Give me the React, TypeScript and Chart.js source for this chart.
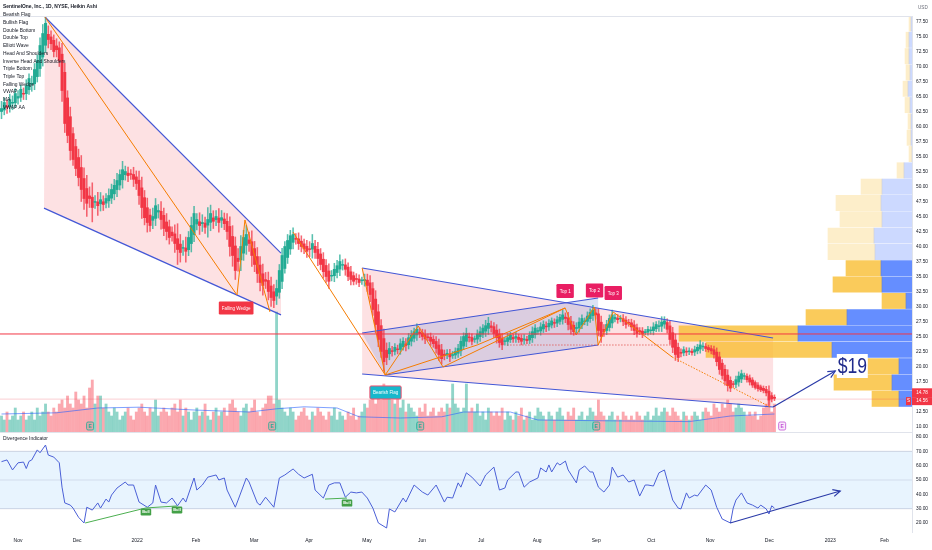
import React, { useEffect, useRef } from 'react';
import { Chart, registerables } from 'chart.js';

Chart.register(...registerables);

const FONT = "'Liberation Sans', Arial, sans-serif";

// ---------- DATA ----------
const chartTitle = 'SentinelOne, Inc., 1D, NYSE, Heikin Ashi';
const indicatorNames = [
  'Bearish Flag', 'Bullish Flag', 'Double Bottom', 'Double Top', 'Elliott Wave',
  'Head And Shoulders', 'Inverse Head And Shoulders', 'Triple Bottom', 'Triple Top',
  'Falling Wedge', 'VWAP', 'MA', 'VWAP AA',
];

const monthLabels = ['Nov', 'Dec', '2022', 'Feb', 'Mar', 'Apr', 'May', 'Jun', 'Jul', 'Aug', 'Sep', 'Oct', 'Nov', 'Dec', '2023', 'Feb'];
const monthTickIdx = [6, 27.5, 49.3, 70.7, 91.8, 111.8, 132.9, 152.9, 174.4, 194.7, 216.2, 236.2, 257.6, 279.1, 301.3, 321.0];

const priceTicks = [10, 12.5, 15, 17.5, 20, 22.5, 25, 27.5, 30, 32.5, 35, 37.5, 40, 42.5, 45, 47.5, 50, 52.5, 55, 57.5, 60, 62.5, 65, 67.5, 70, 72.5, 75, 77.5];
const rsiTicks = [20, 30, 40, 50, 60, 70, 80];

// Heikin Ashi closes, one per trading day
const haFirstOpen = 62.5;
const haClose = [
  63.0, 64.0, 63.2, 64.5, 64.0, 65.5, 65.0, 66.2, 65.4, 66.8,
  68.0, 67.2, 69.5, 71.0, 73.5, 75.5, 77.2, 74.5, 73.8, 72.5,
  72.8, 71.0, 66.0, 60.5, 58.5, 56.0, 54.5, 53.0, 51.5, 49.5,
  48.0, 47.2, 48.0, 46.5, 47.5, 46.8, 47.8, 47.0, 48.0, 48.5,
  49.5, 50.2, 51.0, 52.0, 52.8, 52.5, 51.8, 52.0, 51.2, 50.5,
  48.5, 46.5, 44.8, 44.0, 43.5, 45.0, 46.8, 46.0, 44.5, 43.0,
  42.5, 41.5, 41.8, 40.5, 39.5, 39.0, 39.8, 39.2, 41.5, 43.5,
  45.5, 44.5, 43.5, 44.0, 43.2, 44.5, 45.5, 44.2, 45.0, 44.0,
  44.8, 43.8, 42.5, 40.0, 38.5, 36.0, 37.5, 40.0, 41.5, 42.0,
  40.5, 38.5, 37.0, 35.5, 34.0, 33.5, 34.2, 32.5, 31.5, 31.0,
  33.0, 36.0, 38.5, 40.0, 41.0, 41.8, 42.0, 41.2, 40.5, 40.0,
  39.6, 39.2, 39.5, 40.5, 39.0, 38.0, 37.0, 35.8, 35.0, 34.2,
  35.2, 36.2, 36.8, 37.5, 37.0, 36.2, 35.0, 34.5, 34.2, 34.5,
  34.0, 34.3, 34.5, 33.5, 32.0, 29.5, 27.0, 24.5, 22.5, 20.8,
  21.5, 23.0, 22.5, 23.2, 22.8, 23.8, 24.2, 23.5, 24.8, 25.2,
  25.8, 26.2, 25.5, 25.0, 24.6, 24.8, 24.2, 23.8, 23.0, 22.0,
  21.3, 21.8, 22.2, 21.6, 22.0, 22.5, 23.0, 24.2, 25.0, 25.5,
  24.8, 24.2, 24.6, 25.4, 25.8, 26.4, 26.8, 27.2, 26.5, 25.5,
  24.8, 24.0, 23.6, 24.2, 24.8, 25.2, 24.6, 25.0, 24.5, 24.2,
  24.6, 24.3, 25.2, 25.8, 26.4, 26.0, 26.6, 27.0, 26.6, 27.2,
  27.6, 27.2, 27.8, 28.2, 28.6, 28.0, 27.0, 26.2, 25.8, 26.5,
  27.4, 28.0, 27.6, 28.4, 29.0, 29.4, 28.6, 26.0, 25.0, 25.8,
  27.0, 28.0, 28.6, 28.2, 27.8, 28.0, 27.5, 27.0, 27.2, 26.6,
  26.0, 25.5, 25.8, 25.4, 25.8, 26.2, 26.0, 26.6, 27.0, 26.8,
  27.4, 27.6, 26.2, 24.5, 23.2, 22.0, 21.5, 22.2, 22.8, 22.4,
  22.6, 22.3, 22.8, 23.2, 23.6, 23.4, 23.0, 22.8, 22.6, 22.0,
  20.8, 19.5, 18.5, 17.6, 16.8, 16.4, 17.0, 17.8, 18.4, 18.8,
  18.4, 17.8, 17.4, 16.9, 16.5, 16.3, 16.1, 16.0, 15.6, 14.4,
  14.6, 14.7,
];

// wick extension beyond the body, per day
const wick = [
  1.2, 0.8, 1.0, 0.9, 1.1, 0.8, 1.0, 0.7, 0.9, 1.0, 0.8, 1.2, 1.0, 0.9, 1.3, 1.5, 1.2, 1.4, 1.0, 0.9,
  1.2, 1.0, 1.8, 1.5, 1.2, 1.6, 1.0, 1.2, 1.4, 2.0, 1.8, 2.2, 1.5, 2.4, 1.0, 1.6, 1.2, 1.0, 0.8, 1.1,
  0.9, 1.0, 1.2, 0.8, 1.4, 0.9, 1.0, 0.8, 1.2, 1.0, 1.5, 1.8, 1.2, 1.6, 1.0, 1.4, 1.2, 1.0, 1.6, 1.2,
  1.4, 1.1, 0.9, 1.5, 2.5, 1.6, 1.2, 1.8, 1.0, 1.4, 1.2, 1.0, 1.5, 1.3, 1.0, 2.0, 1.4, 1.2, 1.0, 1.6,
  1.2, 1.0, 1.3, 1.6, 1.8, 1.5, 1.6, 1.8, 1.2, 1.5, 1.3, 1.8, 1.2, 1.5, 1.4, 1.6, 1.2, 1.4, 1.5, 1.2,
  1.4, 1.0, 1.2, 0.8, 1.0, 0.9, 1.1, 0.8, 1.0, 0.9, 0.8, 1.0, 1.2, 1.5, 1.0, 1.2, 0.9, 1.1, 1.0, 1.2,
  0.8, 1.0, 0.9, 1.1, 0.8, 1.0, 0.7, 0.9, 0.6, 0.8, 0.7, 0.6, 0.9, 1.0, 1.2, 1.0, 1.4, 1.2, 1.0, 1.6,
  1.2, 1.0, 0.8, 0.6, 0.7, 0.8, 0.6, 0.9, 0.7, 0.8, 0.6, 0.9, 0.7, 0.6, 0.8, 0.5, 0.7, 0.6, 0.8, 1.0,
  0.9, 0.7, 0.6, 0.8, 0.5, 0.6, 0.7, 0.8, 0.6, 0.9, 0.7, 0.6, 0.5, 0.7, 0.8, 0.6, 0.9, 1.0, 0.8, 0.7,
  0.9, 0.8, 0.8, 0.6, 0.7, 0.5, 0.6, 0.7, 0.5, 0.6, 0.7, 0.5, 0.6, 0.8, 0.6, 0.5, 0.7, 0.6, 0.8, 0.6,
  0.5, 0.7, 0.6, 0.5, 0.8, 0.7, 0.9, 0.8, 0.6, 0.8, 0.7, 0.6, 0.5, 0.7, 0.6, 0.8, 0.7, 0.9, 1.0, 0.8,
  0.7, 0.6, 0.8, 0.5, 0.6, 0.5, 0.7, 0.6, 0.5, 0.6, 0.7, 0.6, 0.5, 0.6, 0.4, 0.5, 0.6, 0.7, 0.5, 0.8,
  0.9, 0.7, 0.6, 0.8, 0.9, 1.0, 0.7, 0.6, 0.5, 0.6, 0.5, 0.4, 0.6, 0.5, 0.7, 0.6, 0.5, 0.4, 0.5, 0.6,
  0.7, 0.8, 0.6, 0.7, 0.9, 0.6, 0.5, 0.6, 0.7, 0.6, 0.5, 0.4, 0.5, 0.4, 0.3, 0.4, 0.3, 0.4, 0.5, 0.9,
  0.5, 0.4,
];

// daily volume (millions)
const volume = [
  4, 3, 5, 3, 4, 6, 3, 4, 5, 3, 4, 5, 3, 6, 4, 5, 7, 5, 4, 6,
  5, 7, 8, 6, 9, 7, 6, 10, 8, 7, 9, 6, 11, 13, 7, 9, 9, 6, 7, 5,
  4, 6, 5, 3, 4, 5, 6, 4, 3, 5, 6, 7, 5, 4, 6, 5, 8, 4, 5, 6,
  5, 4, 6, 7, 5, 8, 4, 6, 5, 3, 5, 6, 4, 5, 7, 4, 3, 5, 6, 4,
  5, 6, 4, 7, 8, 6, 5, 4, 6, 7, 5, 6, 8, 5, 4, 6, 7, 9, 9, 7,
  30, 8, 6, 5, 4, 6, 5, 3, 4, 5, 6, 4, 3, 5, 4, 6, 5, 4, 3, 5,
  4, 6, 3, 5, 4, 3, 5, 4, 6, 3, 4, 5, 7, 6, 8, 9, 7, 10, 8, 12,
  9, 11, 8, 7, 9, 6, 8, 5, 7, 6, 5, 4, 6, 5, 7, 4, 5, 6, 4, 5,
  6, 5, 7, 6, 12, 7, 6, 5, 6, 12, 5, 6, 5, 7, 4, 5, 3, 6, 5, 4,
  5, 4, 6, 3, 5, 4, 3, 5, 4, 6, 3, 4, 5, 3, 4, 6, 5, 4, 3, 5,
  4, 3, 5, 6, 4, 3, 5, 4, 6, 3, 4, 5, 3, 4, 6, 5, 4, 8, 5, 4,
  3, 4, 5, 3, 4, 3, 5, 4, 3, 4, 3, 5, 4, 3, 4, 5, 3, 4, 6, 4,
  5, 6, 5, 4, 6, 5, 4, 3, 5, 4, 3, 4, 5, 4, 3, 5, 6, 5, 4, 7,
  6, 5, 7, 6, 8, 7, 5, 6, 7, 6, 5, 4, 5, 4, 5, 3, 4, 6, 7, 8,
  5, 7,
];

// volume moving average [day index, value]
const volMA = [
  [0, 4.5], [20, 4.8], [35, 6.0], [50, 6.2], [70, 5.5], [90, 5.0], [100, 5.8], [110, 6.3], [122, 6.0],
  [130, 3.8], [145, 3.5], [160, 3.8], [168, 5.0], [185, 5.0], [195, 3.0], [220, 2.8], [250, 2.6],
  [265, 4.0], [281, 4.5],
];

// earnings days
const earningsIdx = [32.2, 98.4, 152.2, 216.2, 283.8];

// visible range volume profile (rows of price)
const vpRowMid = [14.61, 17.33, 20.05, 22.77, 25.49, 28.21, 30.93, 33.65, 36.37, 39.09, 41.81, 44.53, 47.25, 49.97, 52.69, 55.41, 58.13, 60.85, 63.57, 66.29, 69.01, 71.73, 74.45, 77.17];
const vpUp = [13, 20, 13, 80, 114, 65, 6, 30, 31, 37, 38, 30, 31, 30, 8, 0, 1, 1, 2, 4, 2, 3, 3, 1];
const vpDown = [27, 58, 45, 126, 119, 41, 24, 49, 35, 47, 46, 42, 45, 21, 7, 3, 4, 3, 5, 5, 4, 4, 3, 2];
const vpValueAreaRows = 9;

// drawings [day index, price]
const wedgePoly = [[15.8, 78.25], [101.6, 38.9], [101.6, 28.6], [15.45, 46.4]];
const wedgeUpper = [[15.8, 78.25], [101.6, 38.9]];
const wedgeLower = [[15.45, 46.4], [101.6, 28.6]];
const flagPoly = [[131.1, 36.42], [280.5, 24.75], [280.5, 13.25], [131.1, 18.75]];
const flagUpper = [[131.1, 36.42], [280.5, 24.75]];
const flagLower = [[131.1, 18.75], [280.5, 13.25]];
const channelPoly = [[131.1, 25.58], [216.9, 31.42], [216.9, 23.58], [139.5, 18.58]];
const channelUpper = [[131.1, 25.58], [216.9, 31.42]];
const channelLower = [[139.5, 18.58], [216.9, 23.58]];
const wedgeZigzag = [[15.8, 78.25], [85.6, 31.92], [88.5, 44.42], [97.6, 29.08]];
const dropLeg = [[106, 42.4], [139.5, 18.58]];
const flagPole = [[131.1, 36.42], [139.5, 18.58]];
const flagZigzag = [[139.5, 18.58], [151.5, 26.75], [160.5, 19.92], [204.9, 29.75], [208.9, 25.25], [215.5, 29.92], [216.9, 23.58], [222.4, 29.08], [243.8, 21.58]];
const flagSwing = [[139.5, 18.58], [172.9, 23.58], [204.9, 29.75]];
const projection = [[243.8, 21.58], [279.5, 13.25]];
const neckline = [[183.8, 23.58], [244.2, 23.58]];
const resistanceLevel = 25.42;
const lastPrice = 14.56;
const lastClose = 14.78;
const targetArrow = [[280.5, 13.25], [303.1, 19.25]];
const targetText = '$19';
const targetAnchor = [309.3, 20.08];

const patternTags = [
  { text: 'Falling Wedge', i: 85.3, p: 29.75, kind: 'wedge' },
  { text: 'Bearish Flag', i: 139.6, p: 15.67, kind: 'flag' },
  { text: 'Top 1', i: 204.9, p: 32.58, kind: 'top' },
  { text: 'Top 2', i: 215.6, p: 32.67, kind: 'top' },
  { text: 'Top 3', i: 222.4, p: 32.25, kind: 'top' },
];

// RSI / divergence indicator [day index, value]
const rsi = [
  [0, 62.8], [2, 64], [4, 57], [6, 62], [8, 62.5], [9, 58], [10, 63], [11, 64], [13, 71], [14, 69],
  [16, 74.4], [17, 67.4], [19, 66], [21, 62], [22, 45], [23, 34], [25, 32.5], [26, 30.4], [28, 24], [30, 20],
  [31, 31], [33, 29], [35, 34], [36, 30.4], [38, 36.7], [39, 34.6], [40, 39.5], [42, 44.4], [45, 48.6], [46, 46.5],
  [48, 46.5], [50, 34.6], [53, 31], [55, 34], [56, 46.5], [58, 34.6], [60, 34], [62, 37.4], [64, 32], [66, 37.4],
  [67, 34.6], [70, 51.4], [71, 43], [73, 46.5], [75, 52], [78, 53.5], [79, 50], [81, 51.4], [82, 43], [85, 31],
  [86, 36], [89, 51.4], [90, 48.6], [93, 34], [94, 32.5], [96, 38], [99, 31], [101, 51.4], [103, 53.5], [106, 57.7],
  [108, 54], [110, 51.4], [113, 54], [114, 43], [117, 37.4], [119, 46.5], [121, 48], [123, 48], [125, 38], [127, 41.6],
  [129, 41], [131, 41.6], [133, 37.4], [135, 30.4], [137, 20], [140, 16.5], [141, 29.8], [143, 27.7], [146, 37.4], [147, 34.6],
  [150, 46.5], [153, 41.6], [155, 39.5], [158, 46.5], [161, 34.6], [162, 38], [164, 37.4], [166, 48], [167, 45], [169, 55],
  [171, 52], [174, 45.8], [176, 53.5], [179, 59], [181, 43], [183, 44.4], [184, 50], [187, 55.6], [188, 55.6], [190, 45],
  [192, 48.6], [195, 51.4], [196, 58.4], [198, 55.6], [199, 60.5], [200, 55.6], [202, 62], [203, 60.5], [205, 63.2], [206, 57],
  [209, 48], [210, 57], [212, 59.8], [214, 55.6], [215, 55.6], [217, 45], [219, 41.6], [221, 46.5], [222, 59], [224, 52],
  [226, 53.5], [228, 48.6], [230, 50], [232, 38.8], [234, 46.5], [235, 46.5], [237, 45.8], [239, 55], [241, 57], [244, 36],
  [246, 30.4], [247, 29.8], [249, 41], [250, 37.4], [252, 39.5], [253, 38.8], [256, 46.5], [258, 43], [260, 31], [262, 22.8],
  [265, 20], [266, 30.4], [267, 36], [269, 41], [271, 34], [273, 32.5], [275, 30.4], [276, 32.5], [278, 29.8], [279, 26.3],
  [280, 32], [281, 30.4],
];
const bullDivergenceA = [[30.4, 20], [52.5, 30.5], [63.8, 31.9]];
const bullDivergenceB = [[117.6, 36.7], [125.6, 37.4]];
const bullTags = [[52.5, 27.7], [63.8, 29.1], [125.6, 33.9]];
const rsiArrow = [[264.9, 20], [304.9, 42.3]];
const rsiBand = [70, 30];
const rsiMid = 50;

const xMin = -0.55;
const xMax = 331;

// ---------- STYLE ----------
const UP = '#22ab94';
const DOWN = '#f23645';
const UP_VOL = 'rgba(34,171,148,0.5)';
const DOWN_VOL = 'rgba(247,82,95,0.5)';
const PATTERN_BLUE = '#4357d6';
const ORANGE = '#f57c00';
const PINK_FILL = 'rgba(242,54,69,0.15)';
const NAVY = '#2a3aa8';

const pts = (arr: number[][]) => arr.map(([x, y]) => ({ x, y }));

const segment = (points: number[][], color: string, width = 1, dash: number[] = [], order = 1, extra: any = {}) => ({
  type: 'line',
  data: pts(points),
  borderColor: color,
  borderWidth: width,
  borderDash: dash,
  fill: false,
  pointRadius: 0,
  order,
  xAxisID: 'x',
  yAxisID: 'y',
  ...extra,
});

const polygon = (points: number[][], color: string, order: number) => ({
  type: 'line',
  data: pts(points),
  borderColor: 'transparent',
  borderWidth: 0,
  backgroundColor: color,
  fill: 'shape',
  pointRadius: 0,
  order,
  xAxisID: 'x',
  yAxisID: 'y',
});

function arrowHead(ctx: any, x1: number, y1: number, x2: number, y2: number, color: string, len = 8) {
  const a = Math.atan2(y2 - y1, x2 - x1);
  ctx.strokeStyle = color;
  ctx.lineWidth = 1.2;
  ctx.beginPath();
  ctx.moveTo(x2 - len * Math.cos(a - 0.45), y2 - len * Math.sin(a - 0.45));
  ctx.lineTo(x2, y2);
  ctx.lineTo(x2 - len * Math.cos(a + 0.45), y2 - len * Math.sin(a + 0.45));
  ctx.stroke();
}

function tag(ctx: any, cx: number, cy: number, text: string, bg: string, opts: any = {}) {
  const size = opts.size ?? 4.5;
  const padX = opts.padX ?? 3;
  const h = opts.h ?? 12;
  ctx.font = `${opts.weight ?? 'normal'} ${size}px ${FONT}`;
  const w = ctx.measureText(text).width + padX * 2;
  ctx.fillStyle = bg;
  ctx.beginPath();
  ctx.roundRect(cx - w / 2, cy - h / 2, w, h, 1.2);
  ctx.fill();
  if (opts.border) {
    ctx.strokeStyle = opts.border;
    ctx.lineWidth = 1;
    ctx.stroke();
  }
  ctx.fillStyle = opts.fg ?? '#ffffff';
  ctx.textAlign = 'center';
  ctx.textBaseline = 'middle';
  ctx.fillText(text, cx, cy + 0.3);
}

const pricePlugin = {
  id: 'priceOverlay',
  afterDatasetsDraw(chart: any) {
    const { ctx, chartArea, scales } = chart;
    const x = scales.x;
    const y = scales.y;
    ctx.save();

    // earnings markers
    earningsIdx.forEach((idx, k) => {
      const px = x.getPixelForValue(idx);
      const py = chartArea.bottom - 6;
      const upcoming = k === earningsIdx.length - 1;
      const col = upcoming ? '#c24fd6' : '#22ab94';
      ctx.fillStyle = upcoming ? 'rgba(194,79,214,0.12)' : 'rgba(34,171,148,0.15)';
      ctx.strokeStyle = col;
      ctx.lineWidth = 0.8;
      ctx.beginPath();
      ctx.roundRect(px - 3.5, py - 4, 7, 8, 1.5);
      ctx.fill();
      ctx.stroke();
      ctx.fillStyle = col;
      ctx.font = `bold 5px ${FONT}`;
      ctx.textAlign = 'center';
      ctx.textBaseline = 'middle';
      ctx.fillText('E', px, py + 0.4);
    });

    // pattern tags
    patternTags.forEach((t) => {
      const px = x.getPixelForValue(t.i);
      const py = y.getPixelForValue(t.p);
      if (t.kind === 'wedge') tag(ctx, px, py, t.text, '#f23645', { padX: 3, h: 13 });
      else if (t.kind === 'flag') tag(ctx, px, py, t.text, '#17b8cc', { padX: 3, h: 13, border: '#f0506e' });
      else tag(ctx, px, py, t.text, '#e91e63', { padX: 3.2, h: 14 });
    });

    // target arrow and text
    const ax1 = x.getPixelForValue(targetArrow[0][0]);
    const ay1 = y.getPixelForValue(targetArrow[0][1]);
    const ax2 = x.getPixelForValue(targetArrow[1][0]);
    const ay2 = y.getPixelForValue(targetArrow[1][1]);
    arrowHead(ctx, ax1, ay1, ax2, ay2, NAVY, 8);
    const tx = x.getPixelForValue(targetAnchor[0]);
    const ty = y.getPixelForValue(targetAnchor[1]);
    ctx.save();
    ctx.translate(tx, ty);
    ctx.scale(0.8, 1);
    ctx.font = `22px ${FONT}`;
    const tw = ctx.measureText(targetText).width;
    ctx.fillStyle = '#ffffff';
    ctx.fillRect(-tw / 2 - 1, -12, tw + 2, 24);
    ctx.fillStyle = '#1f2a8c';
    ctx.textAlign = 'center';
    ctx.textBaseline = 'middle';
    ctx.fillText(targetText, 0, 1);
    ctx.restore();

    // price tags on the axis
    const tagY1 = y.getPixelForValue(lastClose) - 5;
    const tagY2 = y.getPixelForValue(lastPrice) + 2;
    ctx.fillStyle = '#f23645';
    ctx.fillRect(chartArea.right, tagY1 - 4.5, 20, 9);
    ctx.fillRect(chartArea.right, tagY2 - 4, 20, 8);
    ctx.fillRect(chartArea.right - 6, tagY2 - 4, 5, 8);
    ctx.fillStyle = '#ffffff';
    ctx.font = `4.6px ${FONT}`;
    ctx.textAlign = 'center';
    ctx.textBaseline = 'middle';
    ctx.fillText(lastClose.toFixed(2), chartArea.right + 10, tagY1);
    ctx.fillText(lastPrice.toFixed(2), chartArea.right + 10, tagY2);
    ctx.fillText('S', chartArea.right - 3.5, tagY2);
    ctx.restore();
  },
  afterDraw(chart: any) {
    const { ctx, chartArea } = chart;
    ctx.save();
    ctx.strokeStyle = '#e0e3eb';
    ctx.lineWidth = 1;
    ctx.beginPath();
    ctx.moveTo(0, chartArea.top + 0.5);
    ctx.lineTo(chartArea.right, chartArea.top + 0.5);
    ctx.stroke();
    ctx.fillStyle = '#131722';
    ctx.textAlign = 'left';
    ctx.textBaseline = 'middle';
    ctx.font = `600 4.9px ${FONT}`;
    ctx.fillText(chartTitle, 3, 6.5);
    ctx.font = `4.9px ${FONT}`;
    indicatorNames.forEach((n, k) => ctx.fillText(n, 3, 15 + k * 7.7));
    ctx.font = `4.6px ${FONT}`;
    ctx.fillStyle = '#6a6d78';
    ctx.fillText('USD', chartArea.right + 6, 8);
    ctx.restore();
  },
};

const rsiPlugin = {
  id: 'rsiOverlay',
  afterDatasetsDraw(chart: any) {
    const { ctx, scales } = chart;
    const x = scales.x;
    const y = scales.y;
    ctx.save();
    bullTags.forEach(([i, v]) => {
      tag(ctx, x.getPixelForValue(i), y.getPixelForValue(v), 'Bull', '#43a047', { size: 4, padX: 1.5, h: 7, weight: 'bold' });
    });
    arrowHead(
      ctx,
      x.getPixelForValue(rsiArrow[0][0]), y.getPixelForValue(rsiArrow[0][1]),
      x.getPixelForValue(rsiArrow[1][0]), y.getPixelForValue(rsiArrow[1][1]),
      NAVY, 8,
    );
    ctx.restore();
  },
};

function buildPriceConfig(): any {
  const haOpen: number[] = [];
  haClose.forEach((c, i) => {
    haOpen.push(i === 0 ? haFirstOpen : (haOpen[i - 1] + haClose[i - 1]) / 2);
  });
  const isUp = haClose.map((c, i) => c >= haOpen[i]);

  const bodies = haClose.map((c, i) => ({ x: i, y: [haOpen[i], c] }));
  const wicks = haClose.map((c, i) => ({
    x: i,
    y: [Math.min(c, haOpen[i]) - wick[i], Math.max(c, haOpen[i]) + wick[i]],
  }));
  const vols = volume.map((v, i) => ({ x: i, y: v }));

  const datasets: any[] = [
    polygon(wedgePoly, PINK_FILL, 30),
    polygon(flagPoly, PINK_FILL, 30),
    polygon(channelPoly, 'rgba(140,160,220,0.3)', 29),
    {
      type: 'bar',
      indexAxis: 'y',
      xAxisID: 'xVP',
      yAxisID: 'y',
      data: vpRowMid.map((m, k) => ({ y: m, x: [0, vpUp[k]] })),
      backgroundColor: vpRowMid.map((_, k) => (k < vpValueAreaRows ? 'rgba(41,98,255,0.72)' : 'rgba(41,98,255,0.24)')),
      barThickness: 15.3,
      grouped: false,
      borderWidth: 0,
      order: 20,
    },
    {
      type: 'bar',
      indexAxis: 'y',
      xAxisID: 'xVP',
      yAxisID: 'y',
      data: vpRowMid.map((m, k) => ({ y: m, x: [vpUp[k], vpUp[k] + vpDown[k]] })),
      backgroundColor: vpRowMid.map((_, k) => (k < vpValueAreaRows ? 'rgba(249,190,50,0.8)' : 'rgba(249,190,50,0.26)')),
      barThickness: 15.3,
      grouped: false,
      borderWidth: 0,
      order: 20,
    },
    {
      type: 'bar',
      xAxisID: 'x',
      yAxisID: 'yVol',
      data: vols,
      backgroundColor: isUp.map((u) => (u ? UP_VOL : DOWN_VOL)),
      barThickness: 2.2,
      grouped: false,
      borderWidth: 0,
      order: 18,
    },
    {
      type: 'line',
      xAxisID: 'x',
      yAxisID: 'yVol',
      data: pts(volMA),
      borderColor: 'rgba(41,98,255,0.75)',
      borderWidth: 0.8,
      pointRadius: 0,
      fill: false,
      order: 17,
    },
    {
      type: 'bar',
      xAxisID: 'x',
      yAxisID: 'y',
      data: wicks,
      backgroundColor: isUp.map((u) => (u ? 'rgba(34,171,148,0.75)' : 'rgba(242,54,69,0.75)')),
      barThickness: 0.9,
      grouped: false,
      borderWidth: 0,
      order: 6,
    },
    {
      type: 'bar',
      xAxisID: 'x',
      yAxisID: 'y',
      data: bodies,
      backgroundColor: isUp.map((u) => (u ? UP : DOWN)),
      barThickness: 2.3,
      minBarLength: 0.8,
      grouped: false,
      borderWidth: 0,
      order: 5,
    },
    segment(wedgeUpper, PATTERN_BLUE, 1.2, [], 2),
    segment(wedgeLower, PATTERN_BLUE, 1.2, [], 2),
    segment(flagUpper, PATTERN_BLUE, 1.2, [], 2),
    segment(flagLower, PATTERN_BLUE, 1.2, [], 2),
    segment(channelUpper, PATTERN_BLUE, 1.2, [], 2),
    segment(channelLower, PATTERN_BLUE, 1.2, [], 2),
    segment(wedgeZigzag, ORANGE, 1, [], 1),
    segment(dropLeg, ORANGE, 1, [], 1),
    segment(flagPole, ORANGE, 1, [], 1),
    segment(flagZigzag, ORANGE, 1, [], 1),
    segment(flagSwing, ORANGE, 1, [], 1),
    segment(projection, ORANGE, 1, [1.5, 1.5], 1),
    segment(neckline, '#e0504f', 0.8, [1.5, 1.5], 1),
    segment([[xMin, resistanceLevel], [xMax, resistanceLevel]], '#f23645', 1, [], 0),
    segment([[xMin, lastPrice], [xMax, lastPrice]], 'rgba(242,54,69,0.3)', 0.8, [], 0),
    segment(targetArrow, NAVY, 1.2, [], 0),
  ];

  return {
    type: 'line',
    data: { datasets },
    options: {
      animation: false,
      responsive: false,
      events: [],
      layout: { padding: { top: 16, left: 0, right: 0, bottom: 0 } },
      plugins: { legend: { display: false }, tooltip: { enabled: false }, title: { display: false } },
      elements: { point: { radius: 0 }, line: { tension: 0 } },
      scales: {
        x: { type: 'linear', min: xMin, max: xMax, display: false, offset: false },
        y: {
          type: 'linear',
          position: 'right',
          min: 9.08,
          max: 78.42,
          offset: false,
          afterBuildTicks: (s: any) => { s.ticks = priceTicks.map((v) => ({ value: v })); },
          afterFit: (s: any) => { s.width = 20; s.paddingTop = 0; s.paddingBottom = 0; },
          ticks: {
            font: { size: 4.8, family: FONT },
            color: '#131722',
            padding: 4,
            autoSkip: false,
            callback: (v: any) => Number(v).toFixed(2),
          },
          grid: { display: false, drawTicks: false },
          border: { color: '#e0e3eb' },
        },
        yVol: { type: 'linear', display: false, min: 0, max: 104, offset: false },
        xVP: { type: 'linear', axis: 'x', display: false, min: 0, max: 912, reverse: true, offset: false },
      },
    },
    plugins: [pricePlugin],
  };
}

function buildRsiConfig(): any {
  const datasets: any[] = [
    {
      type: 'line',
      data: pts([[xMin, rsiBand[0]], [xMax, rsiBand[0]]]),
      borderColor: 'rgba(120,123,160,0.3)',
      borderWidth: 1,
      backgroundColor: 'rgba(33,150,243,0.1)',
      fill: '+1',
      pointRadius: 0,
      order: 10,
    },
    {
      type: 'line',
      data: pts([[xMin, rsiBand[1]], [xMax, rsiBand[1]]]),
      borderColor: 'rgba(120,123,160,0.3)',
      borderWidth: 1,
      fill: false,
      pointRadius: 0,
      order: 10,
    },
    {
      type: 'line',
      data: pts([[xMin, rsiMid], [xMax, rsiMid]]),
      borderColor: 'rgba(120,123,160,0.2)',
      borderWidth: 1,
      fill: false,
      pointRadius: 0,
      order: 9,
    },
    {
      type: 'line',
      data: pts(rsi),
      borderColor: '#4a5fd6',
      borderWidth: 1,
      fill: false,
      pointRadius: 0,
      order: 2,
    },
    {
      type: 'line',
      data: pts(bullDivergenceA),
      borderColor: '#4caf50',
      borderWidth: 1,
      fill: false,
      pointRadius: 0,
      order: 1,
    },
    {
      type: 'line',
      data: pts(bullDivergenceB),
      borderColor: '#4caf50',
      borderWidth: 1,
      fill: false,
      pointRadius: 0,
      order: 1,
    },
    {
      type: 'line',
      data: pts(rsiArrow),
      borderColor: NAVY,
      borderWidth: 1.2,
      fill: false,
      pointRadius: 0,
      order: 0,
    },
  ];
  return {
    type: 'line',
    data: { datasets },
    options: {
      animation: false,
      responsive: false,
      events: [],
      layout: { padding: 0 },
      plugins: { legend: { display: false }, tooltip: { enabled: false } },
      elements: { point: { radius: 0 }, line: { tension: 0 } },
      scales: {
        x: {
          type: 'linear',
          min: xMin,
          max: xMax,
          offset: false,
          afterBuildTicks: (s: any) => { s.ticks = monthTickIdx.map((v) => ({ value: v })); },
          afterFit: (s: any) => { s.height = 18; s.paddingLeft = 0; s.paddingRight = 0; },
          ticks: {
            font: { size: 5, family: FONT },
            color: '#131722',
            padding: 6,
            autoSkip: false,
            maxRotation: 0,
            callback: (_v: any, idx: number) => monthLabels[idx],
          },
          grid: { display: false, drawTicks: false },
          border: { display: false },
        },
        y: {
          type: 'linear',
          position: 'right',
          min: 13.72,
          max: 83.49,
          offset: false,
          afterBuildTicks: (s: any) => { s.ticks = rsiTicks.map((v) => ({ value: v })); },
          afterFit: (s: any) => { s.width = 20; s.paddingTop = 0; s.paddingBottom = 0; },
          ticks: {
            font: { size: 4.8, family: FONT },
            color: '#131722',
            padding: 4,
            autoSkip: false,
            callback: (v: any) => Number(v).toFixed(2),
          },
          grid: { display: false, drawTicks: false },
          border: { color: '#e0e3eb' },
        },
      },
    },
    plugins: [
      rsiPlugin,
      {
        id: 'rsiTitle',
        afterDraw(chart: any) {
          const { ctx } = chart;
          ctx.save();
          ctx.fillStyle = '#131722';
          ctx.font = `4.9px ${FONT}`;
          ctx.textAlign = 'left';
          ctx.textBaseline = 'middle';
          ctx.fillText('Divergence Indicator', 3, 6.5);
          ctx.restore();
        },
      },
    ],
  };
}

export default function App() {
  const priceRef = useRef<HTMLCanvasElement>(null);
  const rsiRef = useRef<HTMLCanvasElement>(null);

  useEffect(() => {
    document.body.style.margin = '0';
    const c1 = new Chart(priceRef.current as HTMLCanvasElement, buildPriceConfig());
    const c2 = new Chart(rsiRef.current as HTMLCanvasElement, buildRsiConfig());
    return () => {
      c1.destroy();
      c2.destroy();
    };
  }, []);

  return (
    <div style={{ position: 'relative', width: 932, height: 550, background: '#ffffff', overflow: 'hidden' }}>
      <canvas ref={priceRef} width={932} height={432} style={{ position: 'absolute', left: 0, top: 0 }} />
      <div style={{ position: 'absolute', left: 0, top: 432, width: 912, height: 1, background: '#e0e3eb' }} />
      <canvas ref={rsiRef} width={932} height={118} style={{ position: 'absolute', left: 0, top: 432 }} />
    </div>
  );
}
